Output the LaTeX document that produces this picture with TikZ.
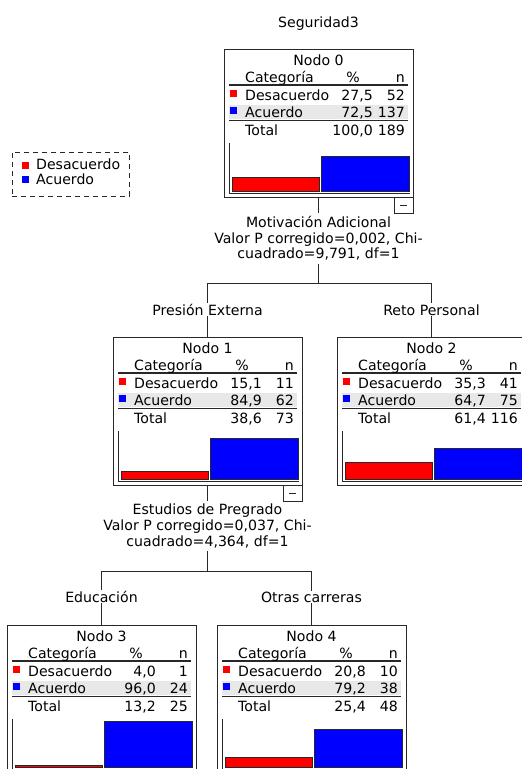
\documentclass[tikz,border=0pt]{standalone}
\usepackage{fontspec}
\setmainfont{DejaVu Sans}
\definecolor{cred}{RGB}{255,0,0}
\definecolor{cblue}{RGB}{0,0,255}
\definecolor{cband}{RGB}{232,232,232}
\definecolor{cline}{RGB}{40,40,40}
\tikzset{
  nodebox/.style={draw=cline, line width=0.8pt, minimum width=189pt, minimum height=148pt, inner sep=0pt, outer sep=0pt, anchor=north west, fill=white},
  ltext/.style={inner sep=0pt, anchor=base west},
  rtext/.style={inner sep=0pt, anchor=base east},
  ctext/.style={inner sep=0pt, anchor=base},
  rulebar/.style={draw=cline, line width=1.2pt},
  barbox/.style={draw=cline, line width=0.8pt},
  sq/.style={minimum size=7pt, inner sep=0pt, outer sep=0pt},
  conn/.style={draw=cline, line width=0.8pt},
  lab/.style={fill=white, inner sep=1pt, anchor=base},
  split/.style={align=center, inner sep=3pt, anchor=north},
  minusbox/.style={draw=cline, line width=0.8pt, minimum width=19pt, minimum height=16pt, inner sep=0pt, outer sep=0pt, anchor=north west, fill=white}
}
% #1 name, #2 title, #3 d%, #4 dn, #5 a%, #6 an, #7 t%, #8 tn
\newcommand\chaidnode[8]{%
  \node[nodebox] (#1) at (0,0) {};
  \fill[cband] (5,56) rectangle (184,70);
  \draw[rulebar] (5,36) -- (184,36);
  \draw[rulebar] (5,71.5) -- (184,71.5);
  \node[ctext] (#1-t) at (94.5,16.5) {#2};
  \node[ltext] (#1-hc) at (21,33.5) {Categoría};
  \node[rtext] (#1-hp) at (136,33.5) {\%};
  \node[rtext] (#1-hn) at (181,33.5) {n};
  \node[sq, fill=cred] (#1-sd) at (9.5,44.5) {};
  \node[ltext] (#1-d) at (21,51.5) {Desacuerdo};
  \node[rtext] (#1-dp) at (149,51.5) {#3};
  \node[rtext] (#1-dn) at (181,51.5) {#4};
  \node[sq, fill=cblue] (#1-sa) at (9.5,61.5) {};
  \node[ltext] (#1-a) at (21,68) {Acuerdo};
  \node[rtext] (#1-ap) at (149,68) {#5};
  \node[rtext] (#1-an) at (181,68) {#6};
  \node[ltext] (#1-tt) at (21,86.5) {Total};
  \node[rtext] (#1-tp) at (149,86.5) {#7};
  \node[rtext] (#1-tn) at (181,86.5) {#8};
  \draw[conn] (5,94) -- (5,144) -- (186,144);
}
% #1 red height, #2 blue height
\newcommand\chaidbars[2]{%
  \draw[barbox, fill=cred] (8,{142-#1}) rectangle (95,142);
  \draw[barbox, fill=cblue] (97,{142-#2}) rectangle (185,142);
}
\newcommand\chaidminus[1]{%
  \node[minusbox] (#1-m) at (170,148) {};
  \draw[conn] ([xshift=-3.5pt]#1-m.center) -- ([xshift=3.5pt]#1-m.center);
}
\begin{document}
\begin{tikzpicture}[x=1pt, y=-1pt, font=\fontsize{14.1}{15.7}\selectfont]
\useasboundingbox[fill=white] (0,0) rectangle (522,769);

\node[ctext] (title) at (318.5,27.5) {Seguridad3};

% legend
\node[draw=cline, line width=0.8pt, dash pattern=on 5pt off 4pt, minimum width=117pt, minimum height=44pt, inner sep=0pt, anchor=north west] (leg) at (12,152) {};
\node[sq, fill=cred] (leg-sd) at (25.5,165) {};
\node[ltext] (leg-d) at (36,169.5) {Desacuerdo};
\node[sq, fill=cblue] (leg-sa) at (25.5,179.5) {};
\node[ltext] (leg-a) at (36,184.5) {Acuerdo};

% nodes
\begin{scope}[shift={(224,49)}]
  \chaidnode{n0}{Nodo 0}{27,5}{52}{72,5}{137}{100,0}{189}
  \chaidbars{13.2}{34.8}
  \chaidminus{n0}
\end{scope}
\begin{scope}[shift={(113,337)}]
  \chaidnode{n1}{Nodo 1}{15,1}{11}{84,9}{62}{38,6}{73}
  \chaidbars{7.25}{40.75}
  \chaidminus{n1}
\end{scope}
\begin{scope}[shift={(337,337)}]
  \chaidnode{n2}{Nodo 2}{35,3}{41}{64,7}{75}{61,4}{116}
  \chaidbars{16.94}{31.06}
\end{scope}
\begin{scope}[shift={(7,625)}]
  \chaidnode{n3}{Nodo 3}{4,0}{1}{96,0}{24}{13,2}{25}
  \chaidbars{1.92}{46.08}
\end{scope}
\begin{scope}[shift={(217,625)}]
  \chaidnode{n4}{Nodo 4}{20,8}{10}{79,2}{38}{25,4}{48}
  \chaidbars{9.98}{38.02}
\end{scope}

% split 0
\node[split] (s0) at (318.5,213) {Motivación Adicional\\Valor P corregido=0,002, Chi-\\cuadrado=9,791, df=1};
\coordinate (j0) at (318.5,283);
\draw[conn] (n0.south) -- (s0.north);
\draw[conn] (s0.south) -- (j0);
\draw[conn] (j0) -| (n1.north);
\draw[conn] (j0) -| (n2.north);
\node[lab] (l1) at (207.5,315) {Presión Externa};
\node[lab] (l2) at (431.5,315) {Reto Personal};

% split 1
\node[split] (s1) at (207.5,501) {Estudios de Pregrado\\Valor P corregido=0,037, Chi-\\cuadrado=4,364, df=1};
\coordinate (j1) at (207.5,571);
\draw[conn] (n1.south) -- (s1.north);
\draw[conn] (s1.south) -- (j1);
\draw[conn] (j1) -| (n3.north);
\draw[conn] (j1) -| (n4.north);
\node[lab] (l3) at (101.5,602) {Educación};
\node[lab] (l4) at (311.5,602) {Otras carreras};
\end{tikzpicture}
\end{document}
